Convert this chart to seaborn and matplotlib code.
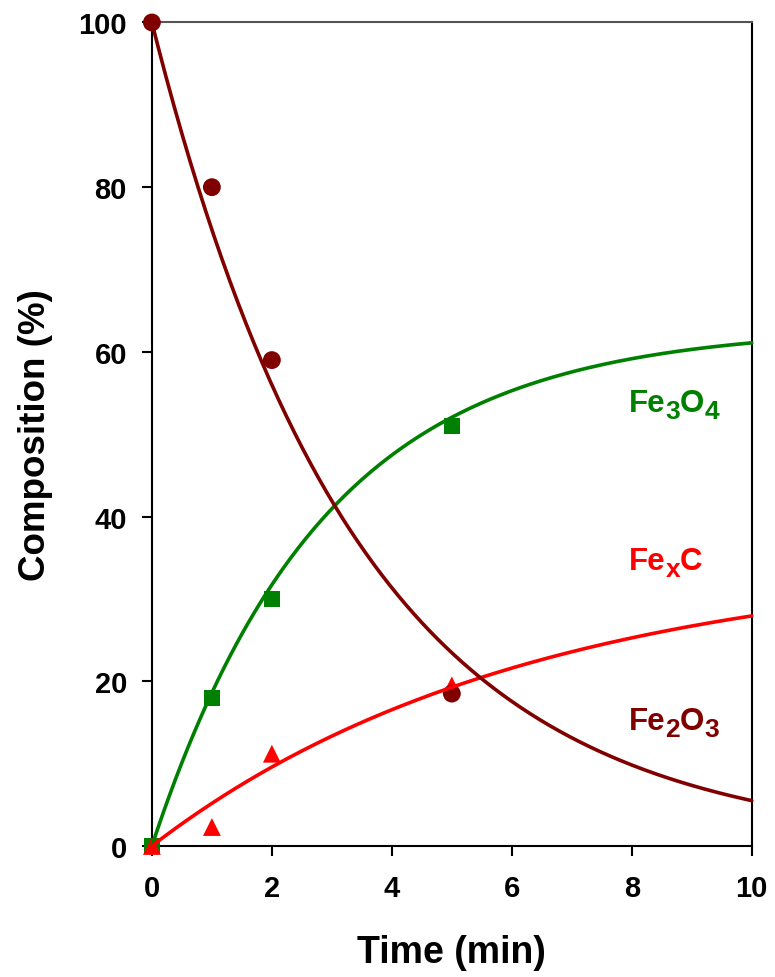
import numpy as np
import pandas as pd
import matplotlib
matplotlib.use("Agg")
import matplotlib.pyplot as plt
import seaborn as sns

# Measured compositions (%) versus reduction time (min)
time_pts = [0, 1, 2, 5]
fe2o3_pts = [100, 80, 59, 18.5]
fe3o4_pts = [0, 18, 30, 51]
fexc_pts = [0, 2.3, 11.2, 19.5]

# First-order kinetic fits: decay for Fe2O3, growth to a plateau for the products
fe2o3_k = 0.29
fe3o4_plateau, fe3o4_k = 63.0, 0.35
fexc_plateau, fexc_k = 35.0, 0.16

x_ticks = [0, 2, 4, 6, 8, 10]
y_ticks = [0, 20, 40, 60, 80, 100]

c_fe2o3 = "#800000"
c_fe3o4 = "#008000"
c_fexc = "#ff0000"

sns.set_style("ticks")
plt.rcParams["font.family"] = ["Liberation Sans", "DejaVu Sans"]
plt.rcParams["font.weight"] = "bold"
for key in ["text.color", "axes.labelcolor", "xtick.color", "ytick.color"]:
    plt.rcParams[key] = "black"

fig = plt.figure(figsize=(7.75, 9.78), dpi=100)
ax = fig.add_axes([0.196, 0.134, 0.774, 0.842])

pts = pd.DataFrame({"t": time_pts, "fe2o3": fe2o3_pts,
                    "fe3o4": fe3o4_pts, "fexc": fexc_pts})

t = np.linspace(0, 10, 301)
fits = pd.DataFrame({
    "t": t,
    "fe2o3": 100 * np.exp(-fe2o3_k * t),
    "fe3o4": fe3o4_plateau * (1 - np.exp(-fe3o4_k * t)),
    "fexc": fexc_plateau * (1 - np.exp(-fexc_k * t)),
})

sns.scatterplot(data=pts, x="t", y="fe3o4", marker="s", s=135, color=c_fe3o4,
                edgecolor="none", ax=ax, zorder=3, clip_on=False)
sns.scatterplot(data=pts, x="t", y="fexc", marker="^", s=165, color=c_fexc,
                edgecolor="none", ax=ax, zorder=3, clip_on=False)
sns.scatterplot(data=pts, x="t", y="fe2o3", marker="o", s=165, color=c_fe2o3,
                edgecolor="none", ax=ax, zorder=4, clip_on=False)

for col, c in [("fe3o4", c_fe3o4), ("fexc", c_fexc), ("fe2o3", c_fe2o3)]:
    sns.lineplot(data=fits, x="t", y=col, color=c, linewidth=2.6, ax=ax,
                 zorder=5, clip_on=False)

ax.set_xlim(0, 10)
ax.set_ylim(0, 100)
ax.set_xticks(x_ticks)
ax.set_yticks(y_ticks)
ax.tick_params(axis="both", direction="out", length=7, width=1.5,
               labelsize=21, colors="black")
ax.tick_params(axis="x", pad=13)
ax.tick_params(axis="y", pad=11)
ax.tick_params(top=False, right=False)
for lab in ax.get_xticklabels() + ax.get_yticklabels():
    lab.set_fontweight("bold")

for side in ["left", "bottom", "right"]:
    ax.spines[side].set_visible(True)
    ax.spines[side].set_color("black")
    ax.spines[side].set_linewidth(1.5)
ax.spines["top"].set_visible(True)
ax.spines["top"].set_color("#555555")
ax.spines["top"].set_linewidth(1.5)

ax.set_xlabel("Time (min)", fontsize=27, fontweight="bold", labelpad=23)
ax.set_ylabel("Composition (%)", fontsize=26.5, fontweight="bold", labelpad=18)


def chem_label(x, y, parts, color, size=22.5, sub_size=19, sub_drop=5):
    """Write a formula piece by piece, lowering the subscript pieces."""
    renderer = fig.canvas.get_renderer()
    offset = 0.0
    for piece, is_sub in parts:
        txt = ax.annotate(piece, xy=(x, y), xycoords="data",
                          xytext=(offset, -sub_drop if is_sub else 0),
                          textcoords="offset points",
                          fontsize=sub_size if is_sub else size,
                          fontweight="bold", color=color,
                          ha="left", va="baseline")
        offset += txt.get_window_extent(renderer).width * 72 / fig.dpi


chem_label(7.95, 52.8, [("Fe", False), ("3", True), ("O", False), ("4", True)], c_fe3o4)
chem_label(7.95, 33.6, [("Fe", False), ("x", True), ("C", False)], c_fexc)
chem_label(7.95, 14.2, [("Fe", False), ("2", True), ("O", False), ("3", True)], c_fe2o3)

fig.savefig("out.png", dpi=100)
